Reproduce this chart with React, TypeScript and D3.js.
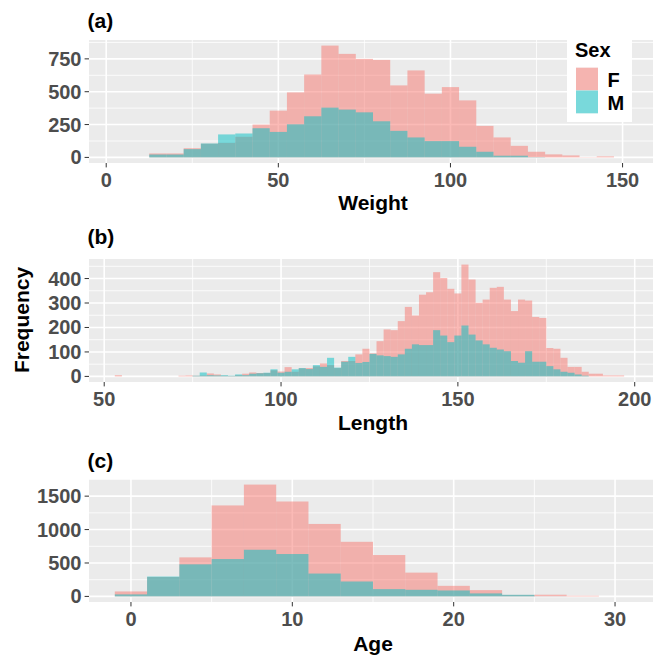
import React, { useRef, useEffect } from "react";
import * as d3 from "d3";

// histogram counts (F drawn first, M on top)
// Weight: binwidth 5, first bin starts at 2.5
const weightStart = 2.5;
const weightBin = 5;
const weightF = [0, 0, 30, 30, 70, 104, 110, 157, 250, 356, 495, 631, 851, 788, 750, 742, 548, 662, 485, 535, 434, 240, 152, 88, 43, 23, 15, 2, 8, 0];
const weightM = [0, 0, 22, 22, 63, 106, 175, 182, 222, 194, 252, 313, 379, 364, 343, 275, 202, 152, 124, 124, 81, 43, 13, 13, 2, 0, 0, 0, 0, 0];

// Length: binwidth 2, first bin starts at 53
const lengthStart = 53;
const lengthBin = 2;
const lengthF = [5, 0, 0, 0, 0, 0, 0, 0, 0, 3, 4, 3, 4, 12, 8, 3, 2, 5, 11, 16, 14, 14, 25, 20, 38, 19, 33, 34, 41, 53, 46, 34, 63, 63, 90, 113, 94, 144, 192, 189, 226, 284, 249, 334, 344, 426, 402, 358, 339, 457, 396, 301, 314, 362, 366, 314, 267, 314, 310, 243, 239, 116, 113, 76, 39, 39, 19, 11, 11, 4, 4, 4, 0];
const lengthM = [0, 0, 0, 0, 0, 0, 0, 0, 0, 0, 0, 3, 16, 5, 4, 5, 3, 8, 5, 11, 13, 15, 29, 15, 19, 29, 34, 30, 46, 39, 76, 36, 60, 80, 55, 59, 92, 86, 83, 80, 90, 113, 131, 128, 128, 189, 167, 140, 167, 208, 171, 147, 131, 117, 110, 103, 63, 56, 103, 60, 60, 42, 29, 19, 15, 8, 3, 0, 0, 0, 0, 0, 0];

// Age: binwidth 2, first bin starts at -1
const ageStart = -1;
const ageBin = 2;
const ageF = [74, 290, 584, 1361, 1673, 1420, 1084, 817, 619, 356, 158, 94, 22, 25, 10, 0];
const ageM = [30, 297, 480, 559, 698, 634, 342, 223, 109, 99, 89, 45, 24, 2, 0, 0];

const weightTicks = [0, 50, 100, 150];
const weightCountTicks = [0, 250, 500, 750];
const lengthTicks = [50, 100, 150, 200];
const lengthCountTicks = [0, 100, 200, 300, 400];
const ageTicks = [0, 10, 20, 30];
const ageCountTicks = [0, 500, 1000, 1500];

const sexes = ["F", "M"];
const colors = ["#F8766D", "#00BFC4"];

const font = "'Liberation Sans', Arial, sans-serif";
const left = 89;
const right = 657;

const drawPanel = (svg, p) => {
  const n = p.f.length;
  const lo = p.start;
  const hi = p.start + n * p.bin;
  const pad = (hi - lo) * 0.05;
  const x = d3.scaleLinear().domain([lo - pad, hi + pad]).range([left, right]);
  const maxC = d3.max([...p.f, ...p.m]);
  const bottom = p.top + p.height;
  const y = d3.scaleLinear().domain([-0.05 * maxC, 1.05 * maxC]).range([bottom, p.top]);

  const minor = (ticks, dom) => {
    const step = ticks[1] - ticks[0];
    const out = [];
    for (let i = -1; i < ticks.length; i++) out.push(ticks[0] + step * (i + 0.5));
    return out.filter(v => v >= dom[0] && v <= dom[1]);
  };

  const g = svg.append("g");
  g.append("rect")
    .attr("x", left).attr("y", p.top)
    .attr("width", right - left).attr("height", p.height)
    .attr("fill", "#EBEBEB");

  // grid
  g.selectAll(".xminor").data(minor(p.xTicks, x.domain())).join("line")
    .attr("x1", d => x(d)).attr("x2", d => x(d))
    .attr("y1", p.top).attr("y2", bottom)
    .attr("stroke", "white").attr("stroke-width", 0.8);
  g.selectAll(".yminor").data(minor(p.yTicks, y.domain())).join("line")
    .attr("y1", d => y(d)).attr("y2", d => y(d))
    .attr("x1", left).attr("x2", right)
    .attr("stroke", "white").attr("stroke-width", 0.8);
  g.selectAll(".xmajor").data(p.xTicks).join("line")
    .attr("x1", d => x(d)).attr("x2", d => x(d))
    .attr("y1", p.top).attr("y2", bottom)
    .attr("stroke", "white").attr("stroke-width", 1.6);
  g.selectAll(".ymajor").data(p.yTicks).join("line")
    .attr("y1", d => y(d)).attr("y2", d => y(d))
    .attr("x1", left).attr("x2", right)
    .attr("stroke", "white").attr("stroke-width", 1.6);

  // bars
  [p.f, p.m].forEach((counts, k) => {
    g.append("g").selectAll("rect").data(counts).join("rect")
      .attr("x", (d, i) => x(p.start + i * p.bin))
      .attr("width", (d, i) => x(p.start + (i + 1) * p.bin) - x(p.start + i * p.bin))
      .attr("y", d => y(d))
      .attr("height", d => y(0) - y(d))
      .attr("fill", colors[k])
      .attr("fill-opacity", 0.5);
  });

  // axes
  g.selectAll(".xtick").data(p.xTicks).join("line")
    .attr("x1", d => x(d)).attr("x2", d => x(d))
    .attr("y1", bottom).attr("y2", bottom + 4.4)
    .attr("stroke", "#333333").attr("stroke-width", 1);
  g.selectAll(".xlab").data(p.xTicks).join("text")
    .attr("x", d => x(d)).attr("y", bottom + 24)
    .attr("text-anchor", "middle")
    .style("font-family", font).style("font-weight", "bold").style("font-size", "20px")
    .attr("fill", "#4D4D4D")
    .text(d => d);
  g.selectAll(".ytick").data(p.yTicks).join("line")
    .attr("y1", d => y(d)).attr("y2", d => y(d))
    .attr("x1", left - 4.4).attr("x2", left)
    .attr("stroke", "#333333").attr("stroke-width", 1);
  g.selectAll(".ylab").data(p.yTicks).join("text")
    .attr("x", left - 7.5).attr("y", d => y(d) + 7)
    .attr("text-anchor", "end")
    .style("font-family", font).style("font-weight", "bold").style("font-size", "20px")
    .attr("fill", "#4D4D4D")
    .text(d => d);

  g.append("text")
    .attr("x", (left + right) / 2).attr("y", p.titleY)
    .attr("text-anchor", "middle")
    .style("font-family", font).style("font-weight", "bold").style("font-size", "21px")
    .text(p.title);
  g.append("text")
    .attr("x", 87.5).attr("y", p.labelY)
    .style("font-family", font).style("font-weight", "bold").style("font-size", "21px")
    .text(p.label);
};

const App = () => {
  const ref = useRef();

  useEffect(() => {
    const svg = d3.select(ref.current);
    svg.selectAll("*").remove();

    drawPanel(svg, { top: 40, height: 123, f: weightF, m: weightM, start: weightStart, bin: weightBin,
      xTicks: weightTicks, yTicks: weightCountTicks, title: "Weight", titleY: 210, label: "(a)", labelY: 27.5 });
    drawPanel(svg, { top: 259, height: 123, f: lengthF, m: lengthM, start: lengthStart, bin: lengthBin,
      xTicks: lengthTicks, yTicks: lengthCountTicks, title: "Length", titleY: 430, label: "(b)", labelY: 244 });
    drawPanel(svg, { top: 479, height: 123, f: ageF, m: ageM, start: ageStart, bin: ageBin,
      xTicks: ageTicks, yTicks: ageCountTicks, title: "Age", titleY: 650.5, label: "(c)", labelY: 467.5 });

    svg.append("text")
      .attr("transform", "translate(28.5,320) rotate(-90)")
      .attr("text-anchor", "middle")
      .style("font-family", font).style("font-weight", "bold").style("font-size", "21px")
      .text("Frequency");

    // legend
    const lg = svg.append("g");
    lg.append("rect").attr("x", 567).attr("y", 39).attr("width", 65).attr("height", 83).attr("fill", "white");
    lg.append("text").attr("x", 575).attr("y", 56.5)
      .style("font-family", font).style("font-weight", "bold").style("font-size", "20px")
      .text("Sex");
    sexes.forEach((s, i) => {
      const ky = 67.7 + i * 22.8;
      lg.append("rect").attr("x", 576).attr("y", ky).attr("width", 22).attr("height", 22.8).attr("fill", "#F2F2F2");
      lg.append("rect").attr("x", 576).attr("y", ky).attr("width", 22).attr("height", 22.8)
        .attr("fill", colors[i]).attr("fill-opacity", 0.5);
      lg.append("text").attr("x", 607.5).attr("y", ky + 19)
        .style("font-family", font).style("font-weight", "bold").style("font-size", "20px")
        .text(s);
    });
  });

  return (
    <div>
      <svg ref={ref} width={653} height={658}
        style={{ position: "absolute", left: 0, top: 0, display: "block", background: "white", overflow: "hidden" }}></svg>
    </div>
  );
};

export default App;
